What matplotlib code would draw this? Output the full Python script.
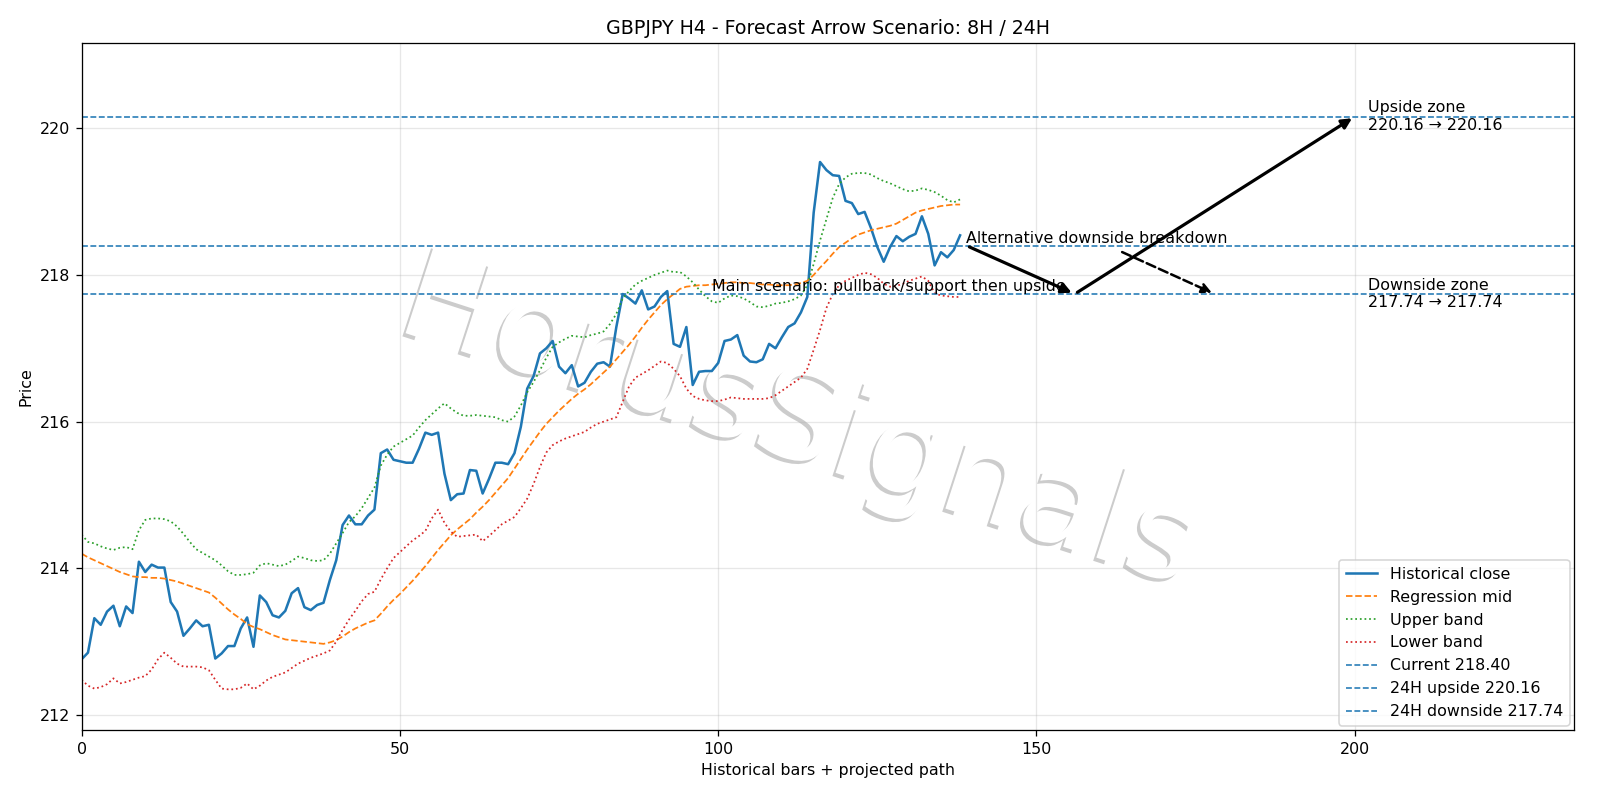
import numpy as np
import matplotlib
matplotlib.use("Agg")
import matplotlib.pyplot as plt
import matplotlib.patheffects as pe

# data
close = [212.76, 212.85, 213.32, 213.23, 213.41, 213.49, 213.21, 213.48, 213.39, 214.09,
         213.95, 214.05, 214.01, 214.01, 213.54, 213.41, 213.08, 213.18, 213.29, 213.21,
         213.23, 212.77, 212.84, 212.94, 212.94, 213.18, 213.33, 212.93, 213.63, 213.54,
         213.36, 213.33, 213.42, 213.66, 213.73, 213.47, 213.43, 213.50, 213.53, 213.84,
         214.11, 214.59, 214.72, 214.60, 214.60, 214.72, 214.80, 215.57, 215.62, 215.48,
         215.46, 215.44, 215.44, 215.63, 215.85, 215.82, 215.85, 215.29, 214.93, 215.01,
         215.02, 215.34, 215.33, 215.02, 215.22, 215.44, 215.44, 215.42, 215.57, 215.93,
         216.45, 216.62, 216.93, 217.00, 217.10, 216.75, 216.66, 216.77, 216.48, 216.53,
         216.68, 216.79, 216.81, 216.75, 217.29, 217.74, 217.68, 217.61, 217.79, 217.53,
         217.57, 217.70, 217.78, 217.06, 217.02, 217.29, 216.50, 216.68, 216.69, 216.69,
         216.80, 217.10, 217.12, 217.18, 216.90, 216.82, 216.81, 216.85, 217.06, 217.00,
         217.15, 217.29, 217.34, 217.49, 217.70, 218.85, 219.54, 219.43, 219.36, 219.35,
         219.01, 218.98, 218.83, 218.86, 218.64, 218.38, 218.18, 218.38, 218.53, 218.46,
         218.52, 218.56, 218.80, 218.56, 218.13, 218.31, 218.24, 218.34, 218.54]

mid = [214.20, 214.15, 214.11, 214.07, 214.03, 213.99, 213.95, 213.92, 213.89, 213.88,
       213.88, 213.87, 213.87, 213.86, 213.84, 213.82, 213.79, 213.76, 213.73, 213.70,
       213.67, 213.60, 213.52, 213.44, 213.37, 213.31, 213.24, 213.20, 213.17, 213.13,
       213.09, 213.06, 213.03, 213.02, 213.01, 213.00, 212.99, 212.98, 212.97, 212.99,
       213.02, 213.07, 213.13, 213.18, 213.22, 213.26, 213.29, 213.38, 213.48, 213.57,
       213.65, 213.74, 213.83, 213.93, 214.03, 214.14, 214.25, 214.35, 214.45, 214.53,
       214.60, 214.67, 214.76, 214.84, 214.93, 215.03, 215.13, 215.23, 215.36, 215.49,
       215.62, 215.74, 215.86, 215.97, 216.06, 216.15, 216.23, 216.31, 216.38, 216.44,
       216.51, 216.59, 216.67, 216.75, 216.85, 216.95, 217.05, 217.16, 217.28, 217.39,
       217.49, 217.59, 217.67, 217.74, 217.81, 217.84, 217.85, 217.86, 217.86, 217.87,
       217.88, 217.89, 217.90, 217.90, 217.89, 217.89, 217.88, 217.87, 217.87, 217.86,
       217.86, 217.86, 217.87, 217.89, 217.92, 218.00, 218.10, 218.19, 218.29, 218.38,
       218.44, 218.50, 218.55, 218.58, 218.61, 218.63, 218.65, 218.67, 218.70, 218.75,
       218.80, 218.85, 218.88, 218.90, 218.92, 218.94, 218.95, 218.96, 218.96]

upper = [214.46, 214.36, 214.34, 214.30, 214.27, 214.25, 214.28, 214.29, 214.26, 214.52,
         214.66, 214.68, 214.68, 214.67, 214.64, 214.57, 214.47, 214.36, 214.26, 214.21,
         214.16, 214.11, 214.04, 213.96, 213.91, 213.91, 213.92, 213.94, 214.04, 214.07,
         214.05, 214.03, 214.05, 214.10, 214.16, 214.14, 214.11, 214.10, 214.11, 214.20,
         214.34, 214.48, 214.63, 214.71, 214.82, 214.96, 215.10, 215.40, 215.55, 215.66,
         215.71, 215.76, 215.81, 215.92, 216.02, 216.10, 216.18, 216.25, 216.18, 216.12,
         216.08, 216.08, 216.09, 216.08, 216.07, 216.06, 216.02, 216.00, 216.07, 216.22,
         216.40, 216.54, 216.70, 216.87, 217.02, 217.08, 217.13, 217.17, 217.16, 217.15,
         217.18, 217.20, 217.23, 217.33, 217.47, 217.68, 217.78, 217.87, 217.92, 217.96,
         218.00, 218.03, 218.06, 218.04, 218.04, 217.98, 217.90, 217.80, 217.71, 217.64,
         217.62, 217.68, 217.72, 217.71, 217.68, 217.63, 217.57, 217.56, 217.58, 217.61,
         217.62, 217.64, 217.67, 217.72, 217.86, 218.15, 218.47, 218.76, 219.05, 219.24,
         219.33, 219.38, 219.39, 219.39, 219.37, 219.32, 219.28, 219.25, 219.21, 219.17,
         219.14, 219.15, 219.18, 219.16, 219.13, 219.08, 219.02, 218.99, 219.03]

lower = [212.48, 212.40, 212.36, 212.38, 212.42, 212.50, 212.43, 212.45, 212.48, 212.51,
         212.53, 212.62, 212.76, 212.85, 212.78, 212.70, 212.66, 212.66, 212.66, 212.65,
         212.61, 212.48, 212.36, 212.35, 212.35, 212.37, 212.43, 212.35, 212.40, 212.47,
         212.52, 212.55, 212.58, 212.64, 212.70, 212.74, 212.78, 212.81, 212.84, 212.88,
         213.00, 213.16, 213.30, 213.42, 213.55, 213.65, 213.68, 213.85, 214.00, 214.14,
         214.22, 214.30, 214.38, 214.44, 214.51, 214.68, 214.80, 214.62, 214.50, 214.43,
         214.44, 214.45, 214.46, 214.37, 214.44, 214.52, 214.60, 214.65, 214.70, 214.82,
         214.95, 215.15, 215.38, 215.58, 215.68, 215.73, 215.77, 215.80, 215.83, 215.86,
         215.92, 215.97, 216.00, 216.03, 216.06, 216.27, 216.48, 216.60, 216.65, 216.70,
         216.76, 216.82, 216.80, 216.72, 216.62, 216.45, 216.35, 216.31, 216.29, 216.28,
         216.28, 216.30, 216.33, 216.32, 216.31, 216.31, 216.31, 216.31, 216.32, 216.36,
         216.42, 216.48, 216.54, 216.60, 216.72, 216.98, 217.25, 217.55, 217.74, 217.86,
         217.92, 217.96, 218.00, 218.03, 218.01, 217.96, 217.88, 217.84, 217.85, 217.88,
         217.92, 217.95, 217.98, 217.92, 217.75, 217.72, 217.71, 217.70, 217.70]

current = 218.40
up_24h = 220.16
down_24h = 217.74

# projected path (bar index, price)
main_x = [139, 156, 200]
main_y = [current, down_24h, up_24h]
alt_x = [163, 178]
alt_y = [218.33, down_24h]

x = np.arange(len(close))

fig, ax = plt.subplots(figsize=(14, 7), dpi=1600 / 14)
fig.subplots_adjust(left=0.051, right=0.984, top=0.946, bottom=0.087)

# watermark, kept under the data lines
ax.text(0.499, 0.47, "HorusSignals", transform=fig.transFigure, fontsize=80, color="white",
        rotation=-18, ha="center", va="center", zorder=0.9,
        path_effects=[pe.withSimplePatchShadow(offset=(-2, -2), shadow_rgbFace="0.5", alpha=0.4)])

ax.plot(x, close, color="tab:blue", lw=1.6, label="Historical close")
ax.plot(x, mid, "--", color="tab:orange", lw=1.1, label="Regression mid")
ax.plot(x, upper, ":", color="tab:green", lw=1.1, label="Upper band")
ax.plot(x, lower, ":", color="tab:red", lw=1.1, label="Lower band")

ax.axhline(current, ls="--", color="tab:blue", lw=1, label=f"Current {current:.2f}")
ax.axhline(up_24h, ls="--", color="tab:blue", lw=1, label=f"24H upside {up_24h:.2f}")
ax.axhline(down_24h, ls="--", color="tab:blue", lw=1, label=f"24H downside {down_24h:.2f}")

# main scenario arrows
for i in range(len(main_x) - 1):
    ax.annotate("", xy=(main_x[i + 1], main_y[i + 1]), xytext=(main_x[i], main_y[i]),
                arrowprops=dict(arrowstyle="-|>", color="black", lw=2, mutation_scale=13))
# alternative
ax.annotate("", xy=(alt_x[1], alt_y[1]), xytext=(alt_x[0], alt_y[0]),
            arrowprops=dict(arrowstyle="-|>", color="black", lw=1.6, ls="--", mutation_scale=13))

ax.text(99, down_24h, "Main scenario: pullback/support then upside", ha="left", va="bottom")
ax.text(main_x[0], current, "Alternative downside breakdown", ha="left", va="bottom")
ax.text(202, up_24h, f"Upside zone\n{up_24h:.2f} \u2192 {up_24h:.2f}", ha="left", va="center")
ax.text(202, down_24h, f"Downside zone\n{down_24h:.2f} \u2192 {down_24h:.2f}", ha="left", va="center")

ax.set_xlim(0, 234.5)
ax.set_ylim(211.79, 221.16)
ax.grid(True, alpha=0.3)
ax.set_title("GBPJPY H4 - Forecast Arrow Scenario: 8H / 24H")
ax.set_xlabel("Historical bars + projected path")
ax.set_ylabel("Price")
ax.legend(loc="lower right", borderaxespad=0.3)

plt.savefig("out.png")
